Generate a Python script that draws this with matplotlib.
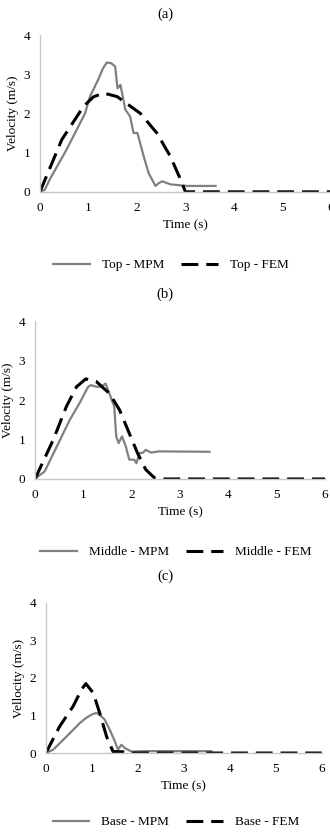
import matplotlib.pyplot as plt

plt.rcParams['font.family'] = ['Liberation Serif', 'DejaVu Serif']

# (a) top
top_mpm_t = [0, 0.1, 0.2, 0.55, 0.93, 1.03, 1.2, 1.3, 1.38, 1.47, 1.55, 1.6, 1.66, 1.72, 1.76, 1.86, 1.93, 2.01, 2.14, 2.24, 2.38, 2.45, 2.52, 2.69, 3.03, 3.62]
top_mpm_v = [0, 0.05, 0.31, 1.08, 2.0, 2.43, 2.86, 3.15, 3.3, 3.28, 3.2, 2.64, 2.73, 2.35, 2.1, 1.92, 1.5, 1.5, 0.9, 0.48, 0.15, 0.22, 0.27, 0.19, 0.15, 0.15]
top_fem_t = [0, 0.45, 0.9, 1.1, 1.31, 1.59, 2.07, 2.41, 2.69, 2.9, 3.0, 6.0]
top_fem_v = [0, 1.33, 2.18, 2.42, 2.52, 2.43, 2.0, 1.5, 0.9, 0.31, 0, 0]

# (b) middle
mid_mpm_t = [0, 0.1, 0.2, 0.45, 0.72, 0.92, 1.1, 1.16, 1.27, 1.37, 1.46, 1.54, 1.64, 1.68, 1.73, 1.8, 1.88, 1.95, 2.05, 2.1, 2.16, 2.23, 2.29, 2.4, 2.57, 3.61]
mid_mpm_v = [0, 0.1, 0.19, 0.82, 1.5, 1.92, 2.34, 2.38, 2.34, 2.34, 2.42, 2.17, 1.83, 1.08, 0.91, 1.08, 0.82, 0.49, 0.49, 0.4, 0.66, 0.66, 0.74, 0.67, 0.7, 0.69]
mid_fem_t = [0, 0.38, 0.65, 0.86, 1.05, 1.27, 1.54, 1.75, 1.95, 2.12, 2.29, 2.47, 2.6, 6.0]
mid_fem_v = [0, 1.0, 1.84, 2.34, 2.54, 2.47, 2.17, 1.75, 1.16, 0.66, 0.24, 0.03, 0, 0]

# (c) base
base_mpm_t = [0, 0.16, 0.45, 0.74, 0.87, 0.99, 1.1, 1.17, 1.28, 1.39, 1.5, 1.57, 1.64, 1.72, 1.86, 2.19, 3.6]
base_mpm_v = [0, 0.09, 0.44, 0.8, 0.93, 1.02, 1.07, 1.02, 0.89, 0.62, 0.31, 0.09, 0.22, 0.13, 0.04, 0.05, 0.05]
base_fem_t = [0, 0.3, 0.59, 0.78, 0.87, 1.03, 1.17, 1.32, 1.46, 1.7, 1.8, 6.0]
base_fem_v = [0, 0.71, 1.24, 1.7, 1.85, 1.6, 1.07, 0.44, 0.04, 0.03, 0, 0]

panels = [
    ('(a)', 'Velocity (m/s)', 'Top', top_mpm_t, top_mpm_v, top_fem_t, top_fem_v),
    ('(b)', 'Velocity (m/s)', 'Middle', mid_mpm_t, mid_mpm_v, mid_fem_t, mid_fem_v),
    ('(c)', 'Vellocity (m/s)', 'Base', base_mpm_t, base_mpm_v, base_fem_t, base_fem_v),
]
# axes rectangles, title y, legend y (figure fractions)
rects = [[0.121, 0.770, 0.882, 0.188], [0.106, 0.4257, 0.879, 0.189], [0.139, 0.0971, 0.836, 0.18]]
title_y = [1 - 14 / 834, 1 - 294 / 834, 1 - 576 / 834]
leg_pos = [(171 / 330, 1 - 265 / 834), (176 / 330, 1 - 552 / 834), (176 / 330, 1 - 822 / 834)]

fig = plt.figure(figsize=(3.3, 8.34), dpi=100)
for i in range(3):
    title, ylab, name, mt, mv, ft, fv = panels[i]
    ax = fig.add_axes(rects[i])
    ax.plot(mt, mv, color='#808080', lw=1.6, label=name + ' - MPM')
    ax.plot(ft, fv, color='black', lw=2.2, dashes=(5.5, 2.6), label=name + ' - FEM')
    ax.set_xlim(0, 6)
    ax.set_ylim(0, 4)
    ax.set_xticks(range(7))
    ax.set_yticks(range(5))
    ax.tick_params(axis='x', length=0, labelsize=9.5, pad=7)
    ax.tick_params(axis='y', length=0, labelsize=9.5, pad=7)
    for s in ['top', 'right']:
        ax.spines[s].set_visible(False)
    for s in ['left', 'bottom']:
        ax.spines[s].set_color('#c8c8c8')
        ax.spines[s].set_linewidth(1.0)
    ax.set_xlabel('Time (s)', fontsize=9.5, labelpad=4)
    ax.set_ylabel(ylab, fontsize=9.5, labelpad=3)
    fig.text(0.5, title_y[i], title, ha='center', va='center', fontsize=10.5)
    fig.legend(*ax.get_legend_handles_labels(), loc='center', bbox_to_anchor=leg_pos[i],
               ncol=2, frameon=False, fontsize=9.5, handlelength=2.8, handletextpad=0.9,
               columnspacing=1.3)

fig.savefig('out.png', dpi=100)
